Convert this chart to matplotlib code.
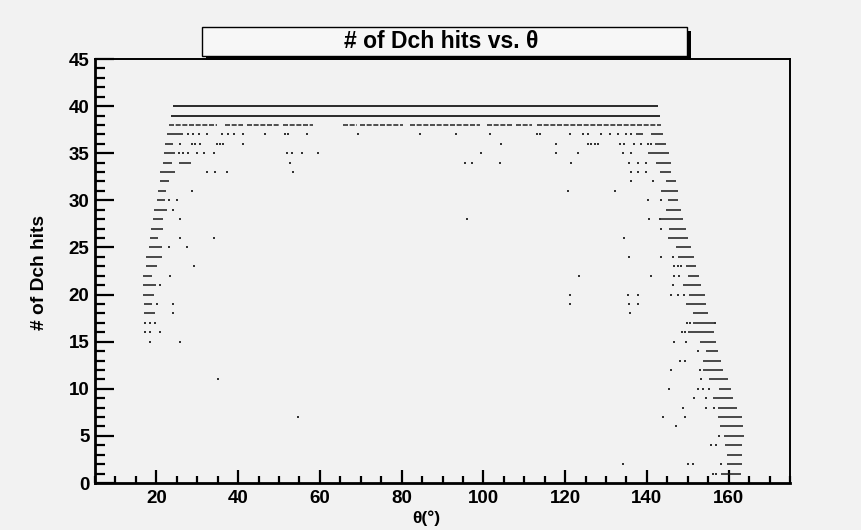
import numpy as np
import matplotlib
matplotlib.use("Agg")
import matplotlib.pyplot as plt
from matplotlib.patches import Rectangle

# full rows at the top: (hits, theta start, theta end)
top_hits = [40, 39]
top_lo = [24.2, 23.5]
top_hi = [142.7, 143.1]

# row 38, dotted-looking runs
r38_lo = [23.2, 36.8, 42.1, 51.0, 65.7, 69.8, 82.0, 100.8, 108.0, 113.0]
r38_hi = [34.8, 41.2, 50.3, 58.3, 69.1, 80.3, 99.1, 106.9, 111.8, 143.5]

# dense runs on the two edges
seg_hits = [37, 37, 37, 36, 36, 35, 35, 34, 34, 34, 33, 33,
            32, 32, 31, 31, 30, 30, 29, 29, 28, 28, 27, 27,
            26, 26, 25, 25, 24, 24, 23, 23, 22, 22, 21, 21,
            20, 20, 19, 19, 18, 18, 17, 16, 15, 14, 13, 12,
            11, 10, 9, 8, 7, 6, 5, 4, 3, 2, 1]
seg_lo = [22.7, 137.4, 141.0, 22.2, 141.9, 21.8, 140.2, 21.6, 25.5, 142.3, 21.0, 143.1,
          20.8, 144.7, 20.3, 143.5, 20.1, 145.1, 19.4, 144.7, 19.2, 143.5, 18.7, 145.5,
          18.4, 145.1, 18.2, 147.2, 17.5, 147.6, 17.5, 149.6, 16.8, 150.0, 16.8, 148.8,
          16.8, 150.4, 17.0, 149.6, 17.0, 151.2, 151.2, 150.0, 153.1, 154.5, 153.7, 153.6,
          155.3, 157.7, 156.1, 157.3, 157.5, 157.9, 158.8, 159.0, 159.7, 159.5, 158.0]
seg_hi = [26.5, 139.0, 143.9, 24.2, 144.7, 24.5, 145.5, 23.8, 28.5, 145.9, 24.6, 145.9,
          23.2, 147.2, 22.4, 147.6, 22.0, 147.6, 22.6, 148.4, 21.7, 148.8, 21.6, 149.6,
          20.5, 150.0, 21.4, 150.8, 21.4, 151.6, 20.1, 152.0, 19.0, 152.7, 19.8, 153.3,
          19.4, 154.1, 19.0, 154.5, 19.6, 154.9, 156.3, 156.5, 156.8, 157.5, 158.0, 158.5,
          159.8, 160.5, 161.0, 162.0, 163.2, 163.5, 163.8, 163.2, 163.2, 163.2, 163.0]

# isolated entries: theta and hits
pts_theta = [27.7, 29.0, 30.5, 32.5, 36.0, 37.5, 39.0, 41.2, 46.6, 51.5, 52.3, 56.8, 69.4,
             84.5, 93.4, 101.6, 113.0, 113.8, 121.1, 124.3, 125.5, 128.8, 130.9, 132.9, 134.9, 136.2,
             25.9, 28.7, 29.5, 30.7, 34.8, 35.6, 36.4, 41.3, 104.4, 117.8, 125.6, 126.4, 127.2,
             128.0, 133.3, 134.5, 136.9, 138.6, 140.2, 141.0,
             25.5, 26.5, 27.7, 29.9, 31.6, 34.0, 51.9, 53.1, 55.6, 59.6, 99.5, 117.8, 123.1, 134.1, 136.2,
             52.7, 95.5, 97.1, 104.0, 121.5, 135.7, 137.8, 139.8,
             32.4, 34.4, 37.3, 53.5, 136.2, 137.8, 139.8,
             136.2, 141.5,
             28.7, 120.7, 132.1,
             23.0, 25.1, 140.2, 143.5,
             24.2,
             25.7, 95.9, 140.6, 143.1,
             143.5,
             25.7, 34.0, 134.5,
             23.0, 27.6,
             135.7, 143.5, 146.3,
             29.1, 146.7, 147.5, 148.3,
             23.3, 123.5, 141.1, 146.7, 147.9,
             20.8, 146.5,
             121.1, 135.4, 137.8, 146.0, 147.5, 149.0,
             20.2, 24.1, 121.1, 135.7, 137.8,
             24.1, 135.9,
             17.3, 18.5, 19.7, 149.9, 150.5, 156.6,
             17.3, 18.5, 21.0, 148.6, 149.2,
             18.4, 25.8, 146.7, 149.6,
             152.4,
             148.0, 149.2,
             145.9, 153.0,
             35.0, 153.2,
             145.5, 152.4, 153.6, 155.3,
             151.6, 154.5,
             148.8, 154.5, 156.5,
             54.6, 143.9, 149.2,
             147.0,
             157.7,
             155.7, 156.9,
             134.1, 150.0, 151.2, 158.1,
             156.1, 157.0]
pts_hits = ([37] * 26 + [36] * 20 + [35] * 15 + [34] * 8 + [33] * 7 + [32] * 2 +
            [31] * 3 + [30] * 4 + [29] * 1 + [28] * 4 + [27] * 1 + [26] * 3 +
            [25] * 2 + [24] * 3 + [23] * 4 + [22] * 5 + [21] * 2 + [20] * 6 +
            [19] * 5 + [18] * 2 + [17] * 6 + [16] * 5 + [15] * 4 + [14] * 1 +
            [13] * 2 + [12] * 2 + [11] * 2 + [10] * 4 + [9] * 2 + [8] * 3 +
            [7] * 3 + [6] * 1 + [5] * 1 + [4] * 2 + [2] * 4 + [1] * 2)

bg = '#f2f2f2'
W, H = 861, 530
fig = plt.figure(figsize=(W / 100, H / 100), dpi=100, facecolor=bg)
ax = fig.add_axes([95 / W, 1 - 483 / H, 695 / W, 424 / H], facecolor=bg)

ax.hlines(top_hits, top_lo, top_hi, colors='#2a2a2a', linewidth=1.4)
ax.hlines([38] * len(r38_lo), r38_lo, r38_hi, colors='#333333', linewidth=1.2,
          linestyles=[(0, (3, 1))])
ax.hlines(seg_hits, seg_lo, seg_hi, colors='#1a1a1a', linewidth=1.1)
ax.scatter(pts_theta, pts_hits, s=2.2, marker='s', color='#333333', linewidths=0)

ax.set_xlim(5, 175)
ax.set_ylim(0, 45)
ax.set_xticks(np.arange(20, 161, 20))
ax.set_xticks(np.arange(5, 176, 5), minor=True)
ax.set_yticks(np.arange(0, 46, 5))
ax.set_yticks(np.arange(0, 46, 1), minor=True)
ax.tick_params(which='both', direction='in', color='black', width=1.6)
ax.tick_params(axis='y', which='major', length=14, pad=4)
ax.tick_params(axis='y', which='minor', length=7)
ax.tick_params(axis='x', which='major', length=9.5, pad=5)
ax.tick_params(axis='x', which='minor', length=5)
for lab in ax.get_xticklabels() + ax.get_yticklabels():
    lab.set_fontfamily('Liberation Sans')
    lab.set_fontweight('bold')
    lab.set_fontsize(13.5)

for side in ['left', 'bottom']:
    ax.spines[side].set_linewidth(2)
for side in ['top', 'right']:
    ax.spines[side].set_linewidth(1.4)

fig.text(40 / W, 1 - 272 / H, '# of Dch hits', rotation=90, ha='center', va='center',
         fontfamily='Liberation Sans', fontweight='bold', fontsize=13.8)
fig.text(426 / W, 1 - 518 / H, 'θ(°)', ha='center', va='center',
         fontfamily='Liberation Sans', fontweight='bold', fontsize=12.5)

# title box with shadow
fig.patches.append(Rectangle((206 / W, 1 - 60 / H), 485 / W, 29 / H, transform=fig.transFigure,
                             facecolor='black', edgecolor='none', zorder=5))
fig.patches.append(Rectangle((202 / W, 1 - 56 / H), 485 / W, 29 / H, transform=fig.transFigure,
                             facecolor='#f7f7f7', edgecolor='black', linewidth=1, zorder=6))
fig.text(441 / W, 1 - 42 / H, '# of Dch hits vs. θ', ha='center', va='center', zorder=7,
         fontfamily='Liberation Sans', fontweight='bold', fontsize=16.5)

fig.savefig('out.png', dpi=100, facecolor=bg)
